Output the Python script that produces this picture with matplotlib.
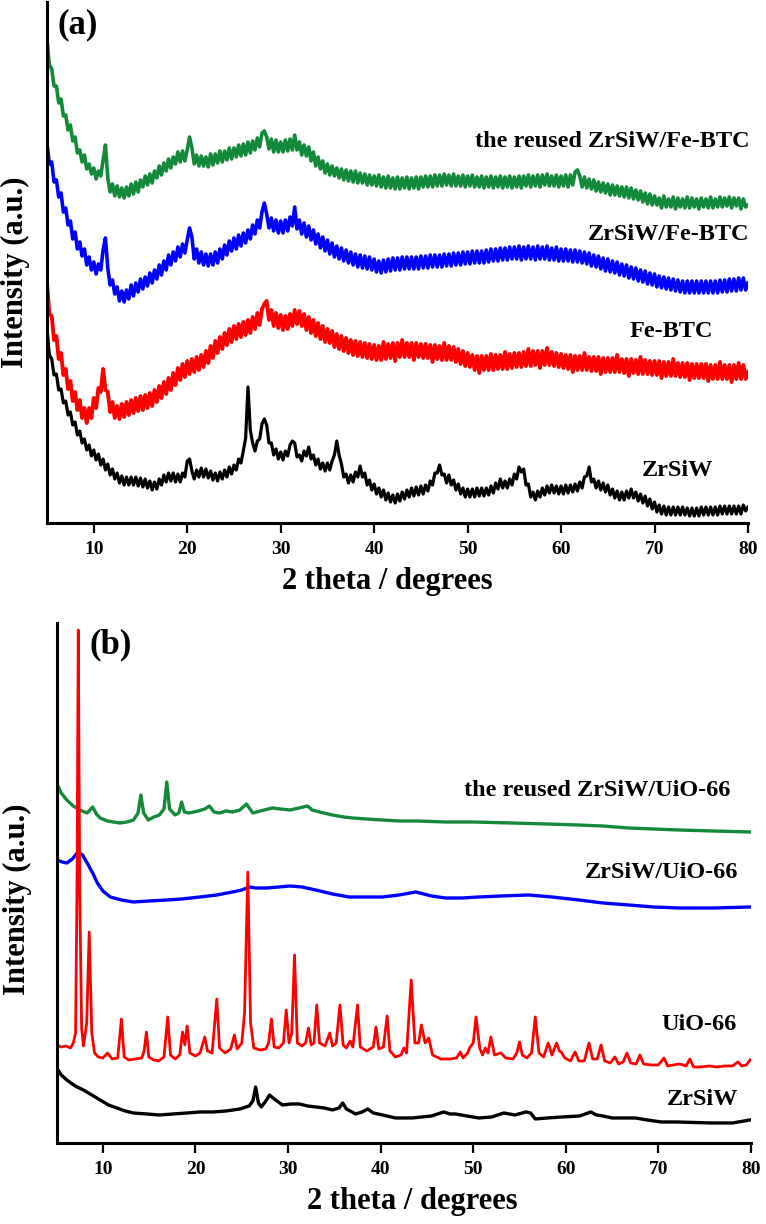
import numpy as np
import matplotlib
matplotlib.use("Agg")
import matplotlib.pyplot as plt

plt.rcParams['font.family'] = ['Liberation Serif', 'DejaVu Serif']
plt.rcParams['font.weight'] = 'bold'

GREEN = '#128a3a'
BLUE = '#0000ff'
RED = '#ff0000'
BLACK = '#000000'

# ---------------- panel (a): ZrSiW / Fe-BTC, sampled every 0.25 deg from 5 to 80 ----------------
reused_fe = [483, 458, 454, 437, 437, 420, 424, 407, 408, 393, 398, 382, 386, 370, 373, 361, 368, 354, 359, 349,
             355, 344, 352, 347, 363, 378, 345, 331, 339, 327, 337, 326, 335, 325, 336, 327, 339, 329, 341, 331,
             343, 336, 347, 338, 349, 340, 352, 345, 357, 348, 360, 352, 364, 355, 366, 359, 371, 361, 372, 362,
             373, 386, 375, 359, 368, 357, 367, 357, 366, 356, 369, 358, 369, 360, 372, 361, 372, 363, 375, 364,
             375, 366, 378, 367, 379, 368, 381, 370, 382, 373, 385, 376, 390, 392, 386, 374, 384, 371, 383, 371,
             381, 371, 383, 372, 384, 373, 388, 373, 381, 368, 378, 367, 376, 362, 371, 357, 366, 354, 362, 350,
             359, 348, 357, 347, 355, 345, 354, 343, 353, 342, 352, 341, 352, 340, 350, 340, 349, 338, 348, 338,
             347, 337, 348, 336, 346, 335, 347, 335, 345, 334, 346, 334, 345, 335, 346, 334, 345, 335, 346, 334,
             346, 336, 347, 336, 347, 336, 348, 337, 348, 337, 349, 338, 348, 337, 349, 337, 347, 337, 348, 336,
             347, 337, 348, 336, 346, 336, 347, 335, 346, 336, 347, 335, 346, 336, 347, 335, 346, 336, 347, 335,
             346, 336, 347, 335, 347, 337, 348, 336, 347, 337, 348, 336, 348, 338, 349, 337, 347, 337, 348, 336,
             347, 337, 348, 336, 348, 338, 351, 353, 347, 336, 346, 335, 344, 334, 343, 332, 341, 331, 340, 330,
             339, 328, 338, 328, 337, 327, 336, 326, 336, 325, 335, 324, 333, 323, 332, 321, 330, 319, 329, 318,
             327, 318, 325, 315, 327, 316, 324, 316, 326, 314, 325, 316, 324, 315, 326, 315, 325, 316, 324, 314,
             325, 316, 324, 315, 326, 315, 324, 316, 326, 316, 325, 317, 326, 315, 325, 317, 325, 314, 324, 316,
             318]

zrsiw_fe = [379, 359, 361, 341, 343, 326, 330, 311, 315, 298, 302, 284, 291, 274, 281, 267, 274, 258, 266, 253,
            261, 249, 259, 253, 273, 285, 255, 238, 243, 229, 236, 222, 232, 221, 233, 224, 238, 227, 240, 231,
            244, 234, 246, 237, 250, 240, 253, 244, 258, 248, 262, 253, 268, 258, 271, 262, 276, 266, 279, 270,
            283, 295, 286, 264, 274, 260, 271, 258, 269, 257, 269, 258, 271, 260, 274, 264, 278, 268, 282, 272,
            285, 274, 288, 277, 290, 280, 293, 284, 298, 289, 303, 295, 311, 320, 309, 295, 305, 292, 303, 290,
            302, 290, 303, 292, 306, 297, 316, 294, 303, 289, 300, 286, 297, 283, 293, 279, 289, 275, 286, 272,
            283, 269, 280, 266, 277, 264, 275, 262, 273, 260, 271, 258, 269, 256, 268, 255, 267, 254, 266, 253,
            264, 251, 262, 250, 263, 251, 264, 252, 265, 253, 265, 253, 266, 254, 266, 254, 266, 254, 266, 254,
            267, 255, 267, 255, 268, 256, 268, 256, 268, 256, 269, 257, 269, 257, 270, 258, 270, 258, 271, 259,
            271, 259, 272, 260, 272, 260, 272, 260, 273, 261, 274, 262, 274, 262, 275, 263, 275, 263, 276, 264,
            276, 264, 277, 263, 276, 264, 277, 264, 276, 263, 277, 264, 276, 264, 277, 263, 275, 263, 276, 262,
            274, 262, 274, 262, 273, 261, 273, 261, 272, 260, 271, 259, 270, 257, 268, 256, 267, 254, 265, 252,
            264, 251, 262, 250, 261, 248, 259, 247, 258, 245, 256, 244, 255, 242, 253, 241, 252, 239, 250, 238,
            249, 236, 247, 235, 246, 234, 245, 233, 244, 232, 243, 231, 242, 230, 242, 230, 242, 230, 242, 230,
            242, 230, 242, 230, 242, 230, 242, 230, 243, 231, 243, 231, 244, 232, 244, 232, 245, 233, 245, 233,
            240]

fe_btc = [240, 209, 207, 183, 187, 164, 170, 148, 154, 134, 142, 122, 131, 113, 123, 105, 115, 100, 115, 105,
          125, 115, 135, 131, 154, 133, 131, 111, 121, 105, 117, 104, 119, 106, 121, 108, 123, 110, 125, 112,
          127, 113, 128, 115, 130, 117, 133, 121, 137, 125, 141, 129, 145, 133, 150, 138, 155, 143, 159, 146,
          162, 149, 164, 151, 166, 153, 168, 156, 172, 160, 177, 165, 182, 170, 186, 174, 190, 178, 194, 181,
          197, 184, 199, 186, 201, 188, 203, 190, 206, 194, 210, 198, 214, 219, 222, 203, 213, 197, 210, 195,
          208, 193, 207, 194, 209, 197, 213, 199, 212, 197, 209, 193, 206, 190, 203, 187, 200, 184, 197, 181,
          194, 180, 192, 176, 189, 174, 187, 172, 185, 170, 183, 168, 182, 167, 181, 166, 180, 165, 179, 164,
          178, 163, 177, 163, 181, 164, 179, 165, 180, 162, 180, 166, 183, 166, 180, 166, 180, 163, 180, 166,
          179, 165, 179, 165, 178, 161, 178, 164, 177, 163, 180, 163, 177, 163, 176, 161, 174, 159, 172, 157,
          170, 156, 168, 153, 167, 150, 167, 153, 167, 153, 169, 153, 168, 154, 168, 154, 171, 154, 169, 155,
          170, 156, 170, 156, 171, 157, 174, 157, 172, 158, 172, 155, 172, 158, 175, 158, 171, 157, 170, 156,
          169, 155, 168, 154, 168, 151, 167, 153, 167, 153, 170, 153, 166, 152, 166, 152, 166, 149, 165, 151,
          165, 151, 165, 151, 168, 151, 164, 150, 164, 147, 164, 150, 163, 149, 166, 149, 163, 149, 162, 148,
          162, 148, 162, 145, 161, 147, 161, 147, 164, 147, 160, 146, 160, 146, 160, 143, 159, 145, 159, 145,
          159, 145, 159, 142, 158, 144, 158, 144, 161, 144, 158, 144, 158, 141, 158, 144, 160, 144, 158, 144,
          151]

zrsiw_a = [194, 168, 164, 148, 149, 133, 134, 120, 122, 108, 111, 98, 101, 88, 92, 80, 84, 73, 78, 67,
           73, 63, 69, 58, 64, 53, 59, 48, 54, 44, 50, 40, 47, 38, 46, 38, 46, 38, 46, 37,
           45, 36, 44, 35, 42, 33, 41, 34, 44, 38, 48, 41, 50, 42, 50, 41, 49, 41, 50, 46,
           62, 64, 52, 44, 53, 46, 55, 46, 54, 45, 52, 43, 50, 42, 51, 44, 53, 46, 56, 49,
           58, 53, 64, 60, 72, 85, 136, 93, 80, 72, 82, 84, 99, 104, 98, 80, 80, 68, 74, 64,
           71, 63, 72, 67, 78, 82, 80, 66, 68, 62, 72, 67, 76, 64, 68, 58, 64, 54, 60, 52,
           60, 53, 62, 68, 82, 68, 59, 46, 49, 40, 48, 41, 51, 46, 57, 46, 50, 38, 43, 33,
           39, 29, 35, 26, 33, 23, 30, 21, 28, 20, 29, 22, 31, 24, 33, 26, 35, 27, 36, 28,
           37, 29, 38, 32, 42, 38, 50, 50, 58, 48, 49, 40, 48, 38, 43, 33, 39, 29, 35, 26,
           34, 26, 34, 26, 35, 27, 35, 27, 35, 28, 37, 30, 40, 34, 44, 35, 42, 35, 44, 38,
           49, 44, 56, 51, 54, 38, 39, 26, 31, 23, 32, 26, 35, 28, 37, 30, 38, 30, 37, 29,
           37, 29, 38, 30, 38, 31, 39, 32, 41, 35, 46, 47, 56, 41, 44, 35, 42, 33, 40, 31,
           38, 28, 34, 25, 32, 23, 31, 23, 32, 25, 34, 25, 31, 22, 29, 20, 27, 17, 24, 14,
           21, 11, 18, 9, 17, 8, 16, 8, 16, 8, 16, 8, 16, 8, 15, 7, 15, 7, 15, 7,
           16, 8, 16, 8, 16, 8, 16, 8, 17, 9, 17, 9, 17, 9, 17, 9, 17, 9, 18, 12,
           16]

reused_uio_x = [5.0, 5.5, 6.1, 6.8, 7.5, 8.3, 8.9, 9.3, 9.7, 10.5, 11.8, 12.6, 13.3, 13.8,
                14.1, 14.4, 14.9, 15.5, 16.1, 16.6, 16.9, 17.2, 17.8, 18.2, 18.5, 18.8,
                19.3, 20.3, 21.0, 21.5, 22.0, 22.6, 23.3, 24.0, 24.8, 25.5, 26.2, 27.0,
                28.3, 29.2, 30.2, 31.2, 32.1, 32.6, 33.4, 34.8, 36.0, 37.0, 38.5, 40.2,
                42.0, 44.0, 47.0, 50.0, 54.2, 58.0, 61.4, 64.0, 66.8, 69.5, 72.2, 76.0, 79.9]
reused_uio_y = [360, 350, 343, 337, 333, 330, 336, 329, 325, 322, 320, 321, 323, 330,
                348, 330, 323, 326, 328, 334, 361, 334, 328, 330, 341, 331,
                330, 332, 334, 337, 331, 330, 332, 331, 333, 339, 330, 332,
                335, 334, 333, 335, 337, 333, 331, 328, 326, 325, 324, 323,
                322, 322, 321, 321, 320, 319, 318, 317, 315, 314, 313, 312, 311]

zrsiw_uio_x = [5.0, 5.6, 6.1, 6.7, 7.3, 7.8, 8.3, 8.9, 9.4, 10.0, 10.8, 12.0, 13.3, 15.0,
               16.9, 18.5, 20.5, 22.3, 24.0, 25.0, 25.8, 26.5, 27.7, 29.0, 30.2, 31.5,
               33.0, 34.8, 36.6, 38.5, 40.2, 42.0, 43.8, 45.5, 47.0, 48.8, 50.6, 53.0,
               56.0, 58.5, 61.4, 64.0, 66.8, 69.5, 72.2, 76.0, 79.9]
zrsiw_uio_y = [283, 281, 280, 284, 291, 288, 280, 270, 260, 252, 246, 243, 241, 242,
               243, 244, 246, 248, 251, 253, 256, 255, 255, 256, 257, 256,
               253, 249, 246, 246, 246, 248, 251, 247, 245, 245, 246, 247,
               248, 246, 243, 240, 238, 236, 235, 235, 236]

uio_x = [5.0, 5.5, 6.0, 6.5, 6.8, 7.05, 7.2, 7.34, 7.5, 7.7, 7.9, 8.25, 8.52, 8.8, 9.1,
         9.5, 10.0, 10.5, 11.0, 11.6, 12.0, 12.3, 12.8, 13.5, 14.2, 14.45, 14.7, 14.95,
         15.5, 16.0, 16.6, 17.0, 17.3, 17.8, 18.3, 18.6, 18.85, 19.1, 19.4, 20.0, 20.5,
         21.0, 21.3, 21.8, 22.3, 22.6, 23.2, 23.8, 24.2, 24.5, 25.0, 25.3, 25.65, 25.95,
         26.3, 27.0, 27.6, 27.9, 28.2, 28.5, 29.0, 29.5, 29.8, 30.1, 30.4, 30.7, 31.0,
         31.5, 31.9, 32.2, 32.5, 32.8, 33.1, 33.4, 34.0, 34.5, 34.8, 35.2, 35.6, 35.95,
         36.3, 36.7, 37.0, 37.5, 37.8, 38.5, 39.2, 39.5, 39.8, 40.3, 40.7, 41.0, 41.6,
         42.2, 42.5, 42.8, 43.3, 43.7, 44.1, 44.4, 44.8, 45.2, 45.6, 46.5, 47.5, 48.2,
         48.6, 48.9, 49.4, 49.6, 50.0, 50.3, 50.7, 51.0, 51.3, 51.6, 51.9, 52.3, 53.0,
         53.5, 54.3, 54.7, 55.0, 55.3, 55.8, 56.3, 56.7, 57.1, 57.6, 58.1, 58.5, 59.0,
         59.3, 59.5, 59.9, 60.5, 61.0, 61.4, 62.0, 62.5, 62.9, 63.4, 63.8, 64.2, 64.8,
         65.3, 65.7, 66.2, 66.6, 67.0, 67.6, 68.0, 68.4, 69.2, 70.0, 70.6, 71.0, 71.6,
         72.3, 73.0, 73.4, 73.8, 74.5, 75.5, 76.3, 77.2, 78.0, 78.6, 79.0, 79.5, 79.9]
uio_y = [98, 96, 97, 95, 100, 110, 250, 513, 250, 115, 97, 120, 211, 110, 90,
         86, 85, 90, 84, 85, 124, 86, 83, 84, 85, 92, 111, 86,
         83, 82, 86, 126, 88, 84, 88, 111, 98, 117, 90, 87, 90,
         106, 92, 90, 144, 95, 90, 94, 108, 94, 100, 130, 271, 120,
         95, 93, 94, 100, 124, 96, 95, 100, 133, 100, 110, 188, 100,
         97, 100, 115, 98, 100, 138, 100, 97, 110, 97, 100, 138, 98,
         95, 102, 96, 138, 96, 92, 96, 116, 94, 96, 127, 92, 86,
         88, 95, 90, 163, 100, 100, 118, 100, 105, 88, 84, 84, 85,
         91, 85, 90, 95, 100, 126, 95, 88, 95, 90, 106, 88, 90,
         85, 84, 90, 101, 88, 85, 90, 126, 90, 86, 100, 88, 100,
         92, 91, 85, 82, 91, 82, 82, 100, 84, 84, 98, 82, 80,
         86, 79, 81, 90, 80, 79, 88, 79, 78, 78, 85, 77, 78,
         79, 77, 84, 76, 76, 77, 76, 77, 77, 81, 77, 78, 83]

zrsiw_b_x = [5.0, 5.5, 6.1, 7.0, 7.9, 8.8, 9.7, 10.6, 11.5, 12.4, 13.3, 14.7, 16.1, 17.6,
             19.1, 20.5, 21.9, 23.3, 24.8, 25.8, 26.2, 26.5, 26.8, 27.1, 27.6, 28.0, 28.5,
             29.4, 30.3, 31.2, 32.1, 33.0, 33.9, 34.8, 35.5, 35.9, 36.3, 37.3, 38.0, 38.6,
             39.2, 40.2, 41.6, 43.4, 45.5, 46.8, 47.5, 48.1, 49.3, 50.6, 52.0, 53.3, 54.5,
             55.7, 56.2, 56.7, 58.0, 59.6, 61.5, 62.7, 63.3, 64.0, 65.0, 66.3, 67.5, 68.8,
             70.3, 72.0, 75.7, 78.0, 79.9]
zrsiw_b_y = [75, 68, 63, 57, 53, 48, 43, 38, 35, 32, 30, 29, 28, 29,
             30, 31, 31, 32, 34, 37, 42, 56, 40, 36, 42, 48, 44,
             38, 39, 39, 37, 36, 35, 33, 35, 40, 34, 29, 31, 34,
             30, 28, 25, 25, 27, 31, 29, 29, 27, 25, 26, 30, 28,
             31, 30, 24, 25, 26, 27, 31, 28, 27, 25, 25, 25, 23,
             21, 21, 20, 20, 23]

labels_a = ['the reused ZrSiW/Fe-BTC', 'ZrSiW/Fe-BTC', 'Fe-BTC', 'ZrSiW']
labels_b = ['the reused ZrSiW/UiO-66', 'ZrSiW/UiO-66', 'UiO-66', 'ZrSiW']

fig = plt.figure(figsize=(7.66, 12.24), dpi=100)
ax_a = fig.add_axes([0.0614, 0.5727, 0.9151, 0.4257])
ax_b = fig.add_axes([0.0739, 0.0662, 0.9065, 0.4248])

# --- panel (a) ---
for series, col, lw in [(reused_fe, GREEN, 2.6), (zrsiw_fe, BLUE, 2.6), (fe_btc, RED, 2.8), (zrsiw_a, BLACK, 2.3)]:
    theta = np.linspace(5, 80, len(series))
    ax_a.plot(theta, series, color=col, lw=lw)
ax_a.set_ylim(0, 521)
label_pos_a = [(80.2, 381), (80.2, 288), (76.25, 191), (76.25, 53)]
for txt, (x, y) in zip(labels_a, label_pos_a):
    ax_a.text(x, y, txt, ha='right', va='center', fontsize=17.5, fontweight='bold')
ax_a.text(6.07, 498, '(a)', ha='left', va='center', fontsize=25, fontweight='bold')

# --- panel (b) ---
ax_b.plot(reused_uio_x, reused_uio_y, color=GREEN, lw=2.4)
ax_b.plot(zrsiw_uio_x, zrsiw_uio_y, color=BLUE, lw=2.4)
ax_b.plot(uio_x, uio_y, color=RED, lw=2.0)
ax_b.plot(zrsiw_b_x, zrsiw_b_y, color=BLACK, lw=2.4)
ax_b.set_ylim(0, 520)
label_pos_b = [(77.8, 353), (78.6, 270), (78.4, 118), (78.6, 43)]
for txt, (x, y) in zip(labels_b, label_pos_b):
    ax_b.text(x, y, txt, ha='right', va='center', fontsize=17.5, fontweight='bold')
ax_b.text(8.6, 498, '(b)', ha='left', va='center', fontsize=25, fontweight='bold')

for ax, ylab_x, ylab_y, xlab_x in [(ax_a, -0.024, 0.482, 0.486), (ax_b, -0.035, 0.469, 0.512)]:
    ax.set_xlim(5, 80)
    ax.set_xticks([10, 20, 30, 40, 50, 60, 70, 80])
    ax.spines['top'].set_visible(False)
    ax.spines['right'].set_visible(False)
    ax.spines['left'].set_linewidth(2.2)
    ax.spines['bottom'].set_linewidth(2.2)
    ax.tick_params(axis='x', direction='out', length=7, width=1.6, pad=6, labelsize=14)
    ax.tick_params(axis='y', left=False, labelleft=False)
    for t in ax.get_xticklabels():
        t.set_fontweight('bold')
    ax.set_xlabel('2 theta / degrees', fontsize=22, fontweight='bold')
    ax.set_ylabel('Intensity (a.u.)', fontsize=22, fontweight='bold')
    ax.xaxis.set_label_coords(xlab_x, -0.0845)
    ax.yaxis.set_label_coords(ylab_x, ylab_y)

fig.savefig('out.png', dpi=100)
